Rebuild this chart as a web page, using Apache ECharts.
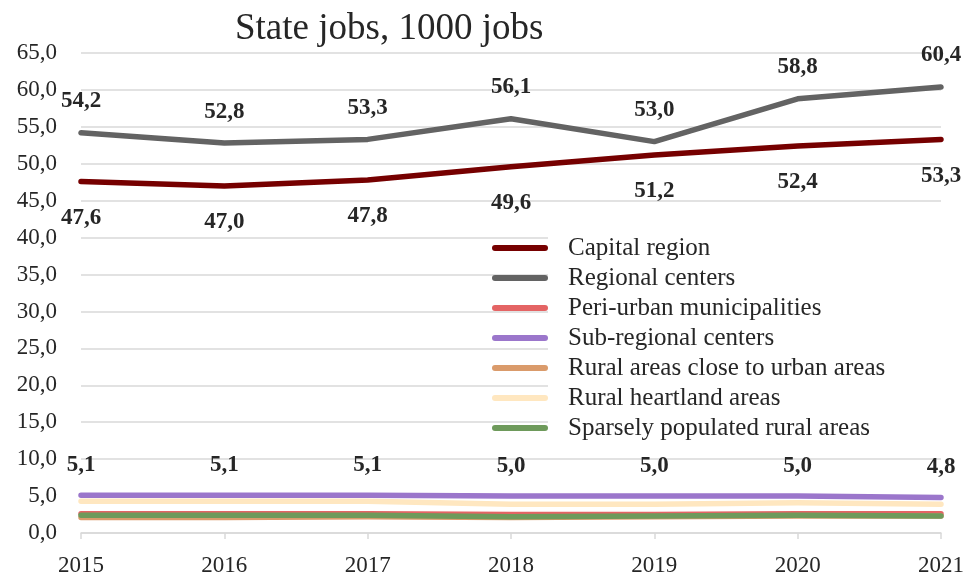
<!DOCTYPE html>
<html>
<head>
<meta charset="utf-8">
<script src="https://cdn.jsdelivr.net/npm/echarts@6/dist/echarts.min.js"></script>
<style>html,body{margin:0;padding:0;background:#fff}#c{width:969px;height:579px}</style>
</head>
<body>
<div id="c"></div>
<script>
const years = ['2015','2016','2017','2018','2019','2020','2021'];
const capitalRegion = [47.6, 47.0, 47.8, 49.6, 51.2, 52.4, 53.3];
const regionalCenters = [54.2, 52.8, 53.3, 56.1, 53.0, 58.8, 60.4];
const periUrban = [2.6, 2.6, 2.6, 2.5, 2.5, 2.6, 2.6];
const subRegional = [5.1, 5.1, 5.1, 5.0, 5.0, 5.0, 4.8];
const ruralClose = [2.1, 2.1, 2.2, 2.1, 2.2, 2.3, 2.3];
const ruralHeartland = [4.3, 4.3, 4.3, 3.9, 3.9, 4.1, 3.9];
const sparselyPopulated = [2.4, 2.4, 2.4, 2.2, 2.3, 2.4, 2.3];
const seriesNames = ['Capital region','Regional centers','Peri-urban municipalities','Sub-regional centers','Rural areas close to urban areas','Rural heartland areas','Sparsely populated rural areas'];

const FONT = '"Liberation Serif", "DejaVu Serif", serif';
const TXT = '#262626';
const fmt = v => v.toFixed(1).replace('.', ',');

function mk(name, data, color, label) {
  const s = {
    name, type: 'line', data, color,
    showSymbol: true, symbol: 'circle', symbolSize: 0,
    lineStyle: { width: 5.5, color, cap: 'round', join: 'round' },
    itemStyle: { color },
    emphasis: { disabled: true },
    z: 2
  };
  if (label) {
    s.label = {
      show: true, position: label.pos, distance: label.dist,
      fontFamily: FONT, fontSize: 23, fontWeight: 'bold', color: TXT,
      formatter: p => fmt(p.value)
    };
  }
  return s;
}

const chart = echarts.init(document.getElementById('c'), null, { renderer: 'canvas' });
chart.setOption({
  animation: false,
  backgroundColor: '#fff',
  title: {
    text: 'State jobs, 1000 jobs', left: 230, top: 6,
    textStyle: { fontFamily: FONT, fontSize: 37, fontWeight: 'normal', color: TXT }
  },
  grid: { left: 81, right: 28, top: 53, bottom: 46 },
  graphic: [{
    type: 'rect', left: 548, top: 232, z: 1,
    shape: { width: 393, height: 208 }, style: { fill: '#fff' }
  }],
  legend: {
    orient: 'vertical', left: 492, top: 233, padding: 0,
    itemWidth: 56, itemHeight: 6, itemGap: 0,
    icon: 'path://M3,0H53A3,3 0 0 1 53,6H3A3,3 0 0 1 3,0Z',
    textStyle: { fontFamily: FONT, fontSize: 25, color: TXT, lineHeight: 30, padding: [0, 0, 0, 15] },
    data: seriesNames, z: 4
  },
  xAxis: {
    type: 'category', data: years, boundaryGap: false,
    axisLine: { lineStyle: { color: '#D9D9D9', width: 1.5 } },
    axisTick: { show: true, length: 6, lineStyle: { color: '#D9D9D9', width: 1.5 } },
    axisLabel: { fontFamily: FONT, fontSize: 23, color: TXT, margin: 21 },
    splitLine: { show: false }
  },
  yAxis: {
    type: 'value', min: 0, max: 65, interval: 5,
    axisLine: { show: false }, axisTick: { show: false },
    axisLabel: { fontFamily: FONT, fontSize: 23, color: TXT, margin: 24, formatter: v => fmt(v) },
    splitLine: { lineStyle: { color: '#D9D9D9', width: 1.5 } }
  },
  series: [
    mk(seriesNames[0], capitalRegion, '#760000', { pos: 'bottom', dist: 25 }),
    mk(seriesNames[1], regionalCenters, '#636363', { pos: 'top', dist: 20 }),
    mk(seriesNames[2], periUrban, '#E46464'),
    mk(seriesNames[3], subRegional, '#9B76CB', { pos: 'top', dist: 19 }),
    mk(seriesNames[4], ruralClose, '#DA9B6B'),
    mk(seriesNames[5], ruralHeartland, '#FFE7C0'),
    mk(seriesNames[6], sparselyPopulated, '#6E9A5B')
  ]
});
</script>
</body>
</html>
